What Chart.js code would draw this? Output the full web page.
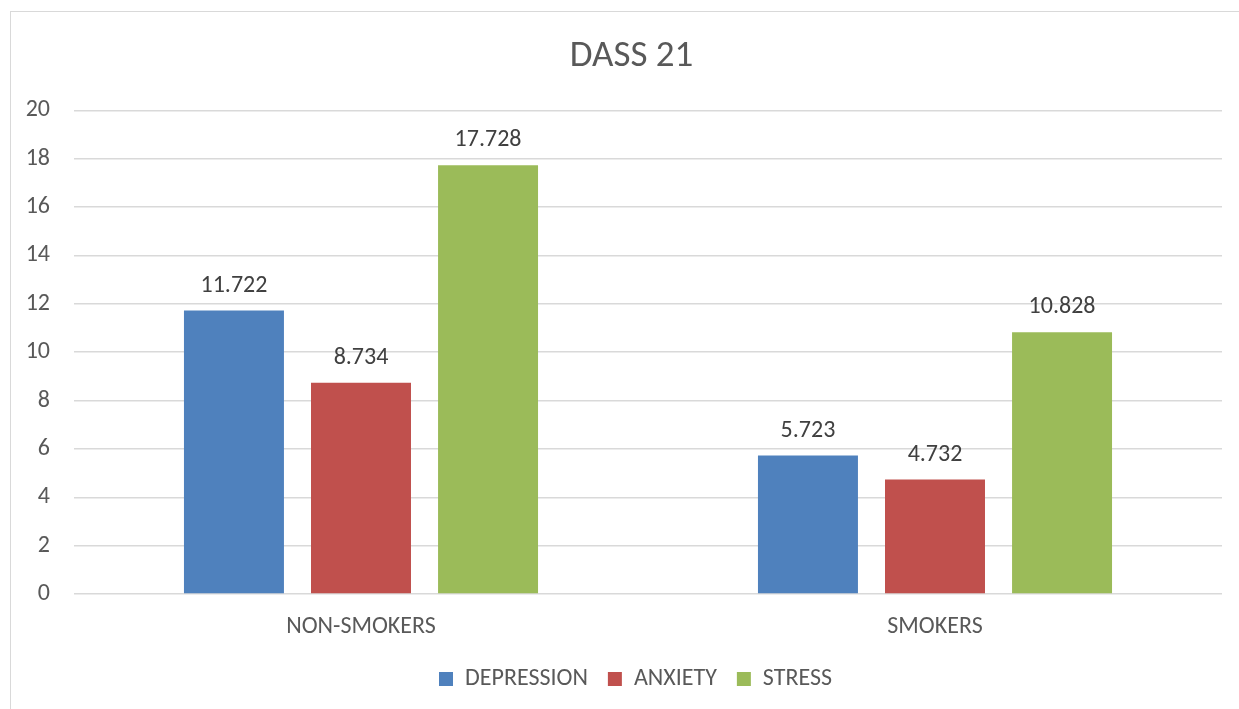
<!DOCTYPE html>
<html>
<head>
<meta charset="utf-8">
<script src="https://cdn.jsdelivr.net/npm/chart.js@4"></script>
<style>
  html, body { margin: 0; padding: 0; background: #fff; overflow: hidden; }
  #frame {
    position: absolute; left: 10px; top: 11px;
    width: 1240px; height: 710px;
    border-left: 1px solid #d9d9d9; border-top: 1px solid #d9d9d9;
  }
  #wrap { position: absolute; left: 0; top: 0; width: 1228px; height: 697px; }
</style>
</head>
<body>
<div id="frame"><div id="wrap"><canvas id="dass"></canvas></div></div>
<script>
const categories = ["NON-SMOKERS", "SMOKERS"];
const depression = [11.722, 5.723];
const anxiety = [8.734, 4.732];
const stress = [17.728, 10.828];
const yTicks = [0, 2, 4, 6, 8, 10, 12, 14, 16, 18, 20];

const FONT = "Carlito, Calibri, Lato, sans-serif";

// value labels above each bar
const barLabels = {
  id: "barLabels",
  afterDatasetsDraw(chart) {
    const ctx = chart.ctx;
    ctx.save();
    ctx.font = "24px " + FONT;
    ctx.fillStyle = "#404040";
    ctx.textAlign = "center";
    ctx.textBaseline = "middle";
    chart.data.datasets.forEach((ds, i) => {
      chart.getDatasetMeta(i).data.forEach((bar, j) => {
        ctx.fillText(ds.data[j].toFixed(3), bar.x, bar.y - 25);
      });
    });
    ctx.restore();
  },
};

// the original frame is wider than the visible area, so title/legend sit a bit right of centre
const nudgeBoxes = {
  id: "nudgeBoxes",
  afterLayout(chart) {
    if (chart.titleBlock) { chart.titleBlock.left += 15; chart.titleBlock.right += 15; }
    if (chart.legend) { chart.legend.left += 19; chart.legend.right += 19; }
  },
};

new Chart(document.getElementById("dass"), {
  type: "bar",
  data: {
    labels: categories,
    datasets: [
      { label: "DEPRESSION", data: depression, backgroundColor: "#4f81bd" },
      { label: "ANXIETY", data: anxiety, backgroundColor: "#c0504d" },
      { label: "STRESS", data: stress, backgroundColor: "#9bbb59" },
    ],
  },
  options: {
    responsive: true,
    maintainAspectRatio: false,
    animation: false,
    categoryPercentage: 0.664,
    barPercentage: 0.787,
    layout: { padding: { left: 0, right: 17, top: 0, bottom: 8 } },
    scales: {
      x: {
        grid: { display: false },
        border: { display: false },
        ticks: { color: "#595959", font: { family: FONT, size: 24 }, padding: 11 },
        afterFit(scale) { scale.height = 53; },
      },
      y: {
        min: 0,
        max: 20,
        afterBuildTicks(scale) { scale.ticks = yTicks.map((v) => ({ value: v })); },
        grid: { color: "#d9d9d9", lineWidth: 1.5, drawTicks: false },
        border: { display: false },
        ticks: { color: "#595959", font: { family: FONT, size: 24 }, padding: 24 },
        afterFit(scale) { scale.width = 63; },
      },
    },
    plugins: {
      title: {
        display: true,
        text: "DASS 21",
        color: "#595959",
        font: { family: FONT, size: 37, weight: "normal" },
        padding: { top: 23, bottom: 31 },
      },
      legend: {
        position: "bottom",
        labels: {
          color: "#595959",
          font: { family: FONT, size: 24 },
          boxWidth: 14,
          boxHeight: 14,
          padding: 20,
        },
      },
      tooltip: { enabled: false },
    },
  },
  plugins: [barLabels, nudgeBoxes],
});
</script>
</body>
</html>
